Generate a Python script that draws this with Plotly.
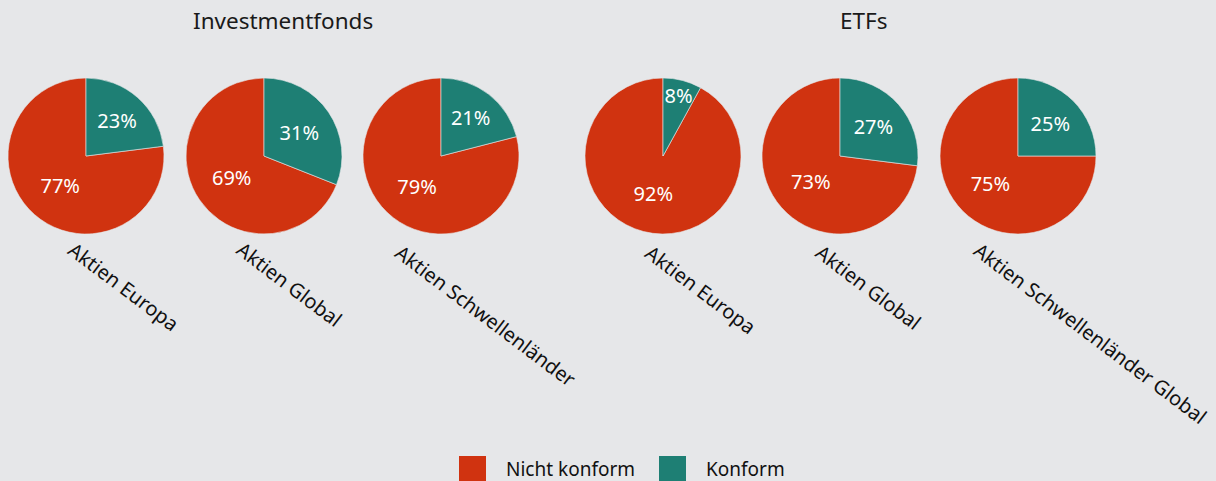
import plotly.graph_objects as go

# ----------------------
# Data
# ----------------------
GROUPS = ["Investmentfonds", "ETFs"]
FUND_CATEGORIES = ["Aktien Europa", "Aktien Global", "Aktien Schwellenländer"]
ETF_CATEGORIES = ["Aktien Europa", "Aktien Global", "Aktien Schwellenländer Global"]
FUND_NICHT_KONFORM = [77, 69, 79]
FUND_KONFORM = [23, 31, 21]
ETF_NICHT_KONFORM = [92, 73, 75]
ETF_KONFORM = [8, 27, 25]
SLICE_LABELS = ["Nicht konform", "Konform"]

# ----------------------
# Styling / layout constants (pixels)
# ----------------------
W, H = 1216, 481
BG = "#e6e7e9"
RED = "#d03310"
TEAL = "#1e7f74"
FONT = "Noto Sans"
PIE_CX = [86, 264, 441, 663, 840, 1018]
PIE_CY = 156
PIE_R = 78
LABEL_POS = [(60, 233), (229, 233), (387, 236), (637, 236), (808, 236), (966, 234)]
TITLE_POS = [(283, 20), (863, 20)]


def px_x(x):
    return x / W


def px_y(y):
    return 1 - y / H


categories = FUND_CATEGORIES + ETF_CATEGORIES
nicht = FUND_NICHT_KONFORM + ETF_NICHT_KONFORM
konf = FUND_KONFORM + ETF_KONFORM

fig = go.Figure()

for i, (cat, n, k) in enumerate(zip(categories, nicht, konf)):
    cx = PIE_CX[i]
    fig.add_trace(go.Pie(
        labels=SLICE_LABELS,
        values=[n, k],
        sort=False,
        direction="clockwise",
        # Konform slice starts at 12 o'clock, Nicht konform follows clockwise
        rotation=k / (n + k) * 360,
        marker=dict(colors=[RED, TEAL], line=dict(color=BG, width=0.6)),
        texttemplate="%{value}%",
        textposition="inside",
        insidetextorientation="horizontal",
        textfont=dict(family=FONT, size=20, color="white"),
        hoverinfo="label+percent",
        showlegend=False,
        domain=dict(
            x=[px_x(cx - PIE_R), px_x(cx + PIE_R)],
            y=[px_y(PIE_CY + PIE_R), px_y(PIE_CY - PIE_R)],
        ),
    ))

annotations = []
# group titles
for title, (tx, ty) in zip(GROUPS, TITLE_POS):
    annotations.append(dict(
        text=title, x=px_x(tx), y=px_y(ty), xref="paper", yref="paper",
        xanchor="center", yanchor="middle", showarrow=False,
        font=dict(family=FONT, size=22.5, color="#1a1a1a"),
    ))

# rotated category labels below each pie
for cat, (lx, ly) in zip(categories, LABEL_POS):
    annotations.append(dict(
        text=cat, x=px_x(lx), y=px_y(ly), xref="paper", yref="paper",
        xanchor="left", yanchor="top", textangle=37, showarrow=False,
        font=dict(family=FONT, size=20, color="#111111"),
    ))

# legend, drawn by hand for the large square swatches
shapes = []
legend_items = [("Nicht konform", RED, 459), ("Konform", TEAL, 659)]
for name, color, lx in legend_items:
    shapes.append(dict(
        type="rect", xref="paper", yref="paper",
        x0=px_x(lx), x1=px_x(lx + 27), y0=px_y(483), y1=px_y(456),
        fillcolor=color, line=dict(width=0),
    ))
    annotations.append(dict(
        text=name, x=px_x(lx + 45), y=px_y(469), xref="paper", yref="paper",
        xanchor="left", yanchor="middle", showarrow=False,
        font=dict(family=FONT, size=19, color="#111111"),
    ))

fig.update_layout(
    width=W,
    height=H,
    margin=dict(l=0, r=0, t=0, b=0),
    paper_bgcolor=BG,
    plot_bgcolor=BG,
    uniformtext=dict(minsize=20, mode="show"),
    annotations=annotations,
    shapes=shapes,
    font=dict(family=FONT),
)

# drop the default page margin so the figure fills the window exactly
fig.write_html(
    "out.html",
    config={"displayModeBar": False},
    post_script="document.body.style.margin='0';document.body.style.overflow='hidden';",
)
